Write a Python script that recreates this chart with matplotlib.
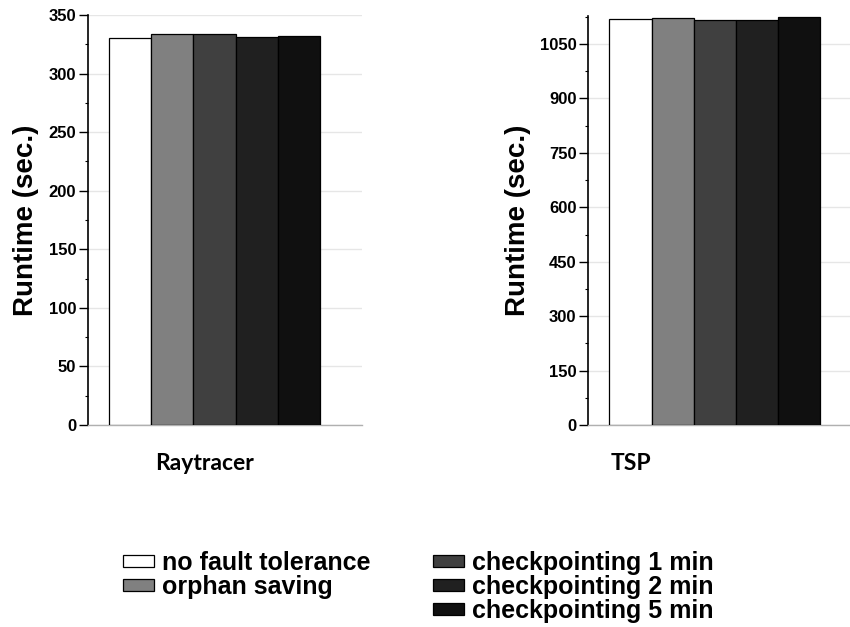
import matplotlib.pyplot as plt
from matplotlib.patches import Rectangle
from matplotlib.ticker import MultipleLocator

# data
series = ['no fault tolerance', 'orphan saving', 'checkpointing 1 min',
          'checkpointing 2 min', 'checkpointing 5 min']
colors = ['#ffffff', '#808080', '#404040', '#202020', '#101010']
raytracer = [330, 334, 334, 331, 332]
tsp = [1118, 1121, 1116, 1117, 1124]

W, H = 850, 627
fig = plt.figure(figsize=(W / 100, H / 100), dpi=100)

tick_font = dict(family='Liberation Sans', weight='bold', size=12)


def px(x0, y_top, w, y_bot):
  return [x0 / W, 1 - y_bot / H, w / W, (y_bot - y_top) / H]


def panel(rect, vals, ymax, major, minor, labx):
  ax = fig.add_axes(rect)
  for i, v in enumerate(vals):
    ax.bar(i, v, width=1.0, color=colors[i], edgecolor='black',
           linewidth=0.9, zorder=3)
  ax.set_xlim(-1.0, 5.5)
  ax.set_ylim(0, ymax)
  ax.yaxis.set_major_locator(MultipleLocator(major))
  ax.yaxis.set_minor_locator(MultipleLocator(minor))
  ax.set_xticks([])
  for s in ['top', 'right']:
    ax.spines[s].set_visible(False)
  ax.spines['bottom'].set_color('#b0b0b0')
  ax.spines['bottom'].set_linewidth(1.0)
  ax.spines['left'].set_linewidth(1.2)
  ax.grid(axis='y', which='major', color='#e6e6e6', linewidth=1.0, zorder=0)
  ax.tick_params(axis='y', which='major', length=6.5, width=1.0, pad=2)
  ax.tick_params(axis='y', which='minor', length=2.5, width=0.8)
  for t in ax.get_yticklabels():
    t.set_fontproperties(tick_font)
  ax.set_ylabel('Runtime (sec.)', family='Liberation Sans', weight='bold',
                size=20)
  ax.yaxis.set_label_coords(labx, 0.5)
  return ax


ax1 = panel(px(88, 15, 274, 425), raytracer, 350, 50, 25, -0.18)
ax2 = panel(px(588.3, 15.7, 274, 425), tsp, 1128, 150, 75, -0.21)

fig.text(205 / W, 1 - 463 / H, 'Raytracer', family='Lato', weight='bold',
         size=16.5, ha='center', va='center')
fig.text(631 / W, 1 - 463 / H, 'TSP', family='Lato', weight='bold',
         size=16.5, ha='center', va='center')

handles = [Rectangle((0, 0), 1, 1, facecolor=c, edgecolor='black',
                     linewidth=0.9) for c in colors]
blank = Rectangle((0, 0), 1, 1, visible=False)
h = [handles[0], handles[1], blank, handles[2], handles[3], handles[4]]
l = [series[0], series[1], '', series[2], series[3], series[4]]
fig.legend(h, l, loc='upper left', bbox_to_anchor=(123 / W, 1 - 551 / H),
           ncol=2, frameon=False, borderpad=0, borderaxespad=0,
           handlelength=1.25, handleheight=0.35, handletextpad=0.3,
           columnspacing=2.5, labelspacing=0.0,
           prop=dict(family='Liberation Sans', weight='bold', size=18))

fig.savefig('out.png', dpi=100)
